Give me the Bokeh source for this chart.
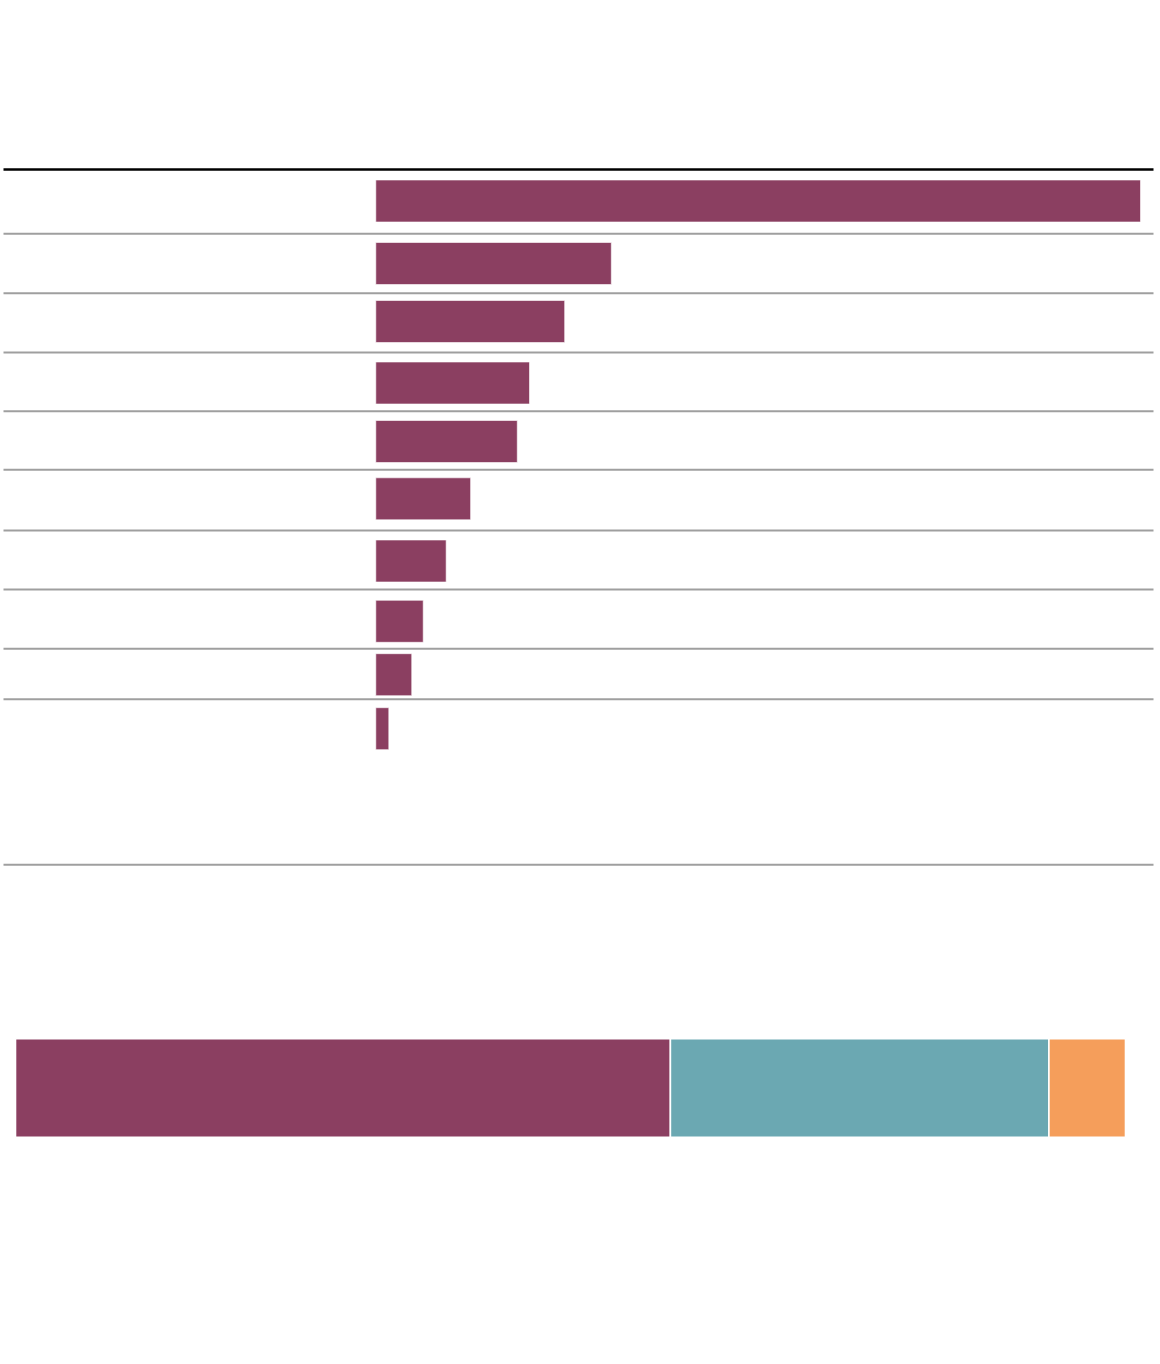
from bokeh.plotting import figure
from bokeh.models import Range1d, ColumnDataSource
from bokeh.embed import file_html
from bokeh.resources import INLINE

# ---- data ----
bar_values = [100.0, 30.8, 24.7, 20.1, 18.5, 12.4, 9.2, 6.2, 4.7, 1.7]
share_labels = ["A", "B", "C"]
share_values = [59.0, 34.1, 6.9]

# ---- colours ----
PURPLE = "#8b3f61"
TEAL = "#6ba8b2"
ORANGE = "#f59e5b"
GRID = "#9f9f9f"

# ---- layout: page coordinates, converted to figure coordinates ----
OX, OY = 0.0, 0.0  # observed page position of the figure's top-left corner
W, H = 1156, 1350

def fy(v):
    return v - OY

def fx(v):
    return v - OX

bar_centers = [fy(v) for v in [200.5, 263, 321, 382.5, 441, 498.3, 560.5, 620.8, 674.2, 728.2]]
bar_height = 42
rule_top = fy(169)
rules = [fy(v) for v in [233.3, 292.7, 352, 410.7, 469.3, 530, 589, 648.3, 698.7, 864.3]]
stack_center = fy(1087.5)
stack_height = 98.4

zero_px, full_px = fx(375.3), fx(1140.0)
px_per_val = (full_px - zero_px) / 100.0
share0_px = fx(15.0)
px_per_share = 1110.0 / 100.0

p = figure(width=W, height=H, output_backend="svg", toolbar_location=None,
           x_range=Range1d(0, W), y_range=Range1d(H, 0), min_border=0)
p.extra_x_ranges = {
    "val": Range1d(-zero_px / px_per_val, (W - zero_px) / px_per_val),
    "share": Range1d(-share0_px / px_per_share, (W - share0_px) / px_per_share),
}
p.axis.visible = False
p.grid.visible = False
p.outline_line_color = None
p.background_fill_color = "white"
p.border_fill_color = "white"

x_left, x_right = fx(3), fx(1153)
p.segment(x0=[x_left] * len(rules), x1=[x_right] * len(rules), y0=rules, y1=rules,
          line_color=GRID, line_width=2)
p.segment(x0=[x_left], x1=[x_right], y0=[rule_top], y1=[rule_top],
          line_color="black", line_width=2.3)

src = ColumnDataSource(dict(y=bar_centers, right=bar_values))
p.hbar(y="y", left=0, right="right", height=bar_height, source=src,
       x_range_name="val", fill_color=PURPLE, line_color="white",
       line_width=1, line_alpha=0.6)

lefts = []
acc = 0.0
for v in share_values:
    lefts.append(acc)
    acc += v
rights = [l + v for l, v in zip(lefts, share_values)]
ssrc = ColumnDataSource(dict(left=lefts, right=rights,
                             y=[stack_center] * len(share_values),
                             color=[PURPLE, TEAL, ORANGE], label=share_labels))
p.hbar(y="y", left="left", right="right", height=stack_height, source=ssrc,
       x_range_name="share", fill_color="color", line_color="white",
       line_width=1.6)

open("out.html", "w").write(file_html(p, INLINE))
